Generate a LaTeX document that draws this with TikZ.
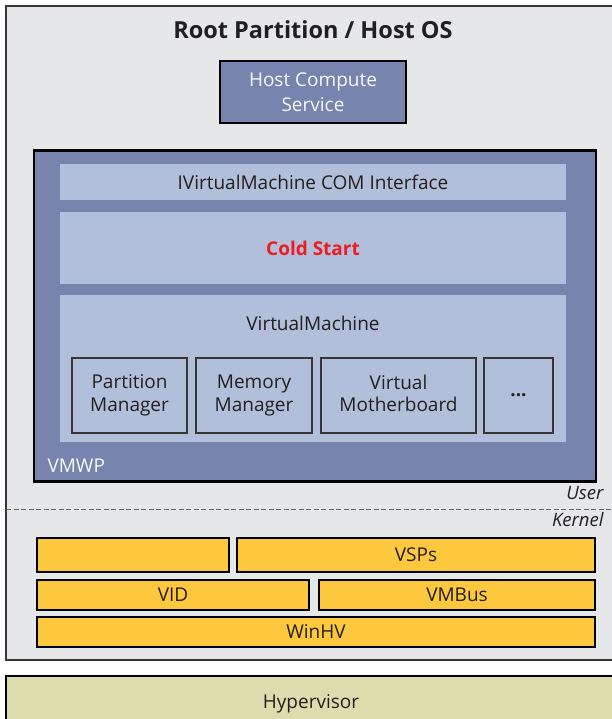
\documentclass[tikz,border=0pt]{standalone}
\usepackage{fontspec}
\setmainfont{Open Sans}
\usepackage{tikz}
\definecolor{hostgray}{HTML}{E6E7E9}
\definecolor{procblue}{HTML}{7784AE}
\definecolor{layerblue}{HTML}{B2BFDA}
\definecolor{drvyellow}{HTML}{FDC73E}
\definecolor{hvkhaki}{HTML}{DCDCAC}
\definecolor{ink}{HTML}{231F20}
\definecolor{hotred}{HTML}{ED1C24}
\tikzset{
  arch frame/.style={draw=ink!90,fill=hostgray,line width=1.6pt,inner sep=0pt},
  arch proc/.style={draw=black,fill=procblue,line width=2.4pt,inner sep=0pt,text=white!95!procblue,align=center},
  arch layer/.style={fill=layerblue,inner sep=0pt,text=ink},
  arch part/.style={draw=ink!90,fill=layerblue,line width=1.8pt,inner sep=0pt,text=ink,align=center,text depth=4.5pt},
  arch drv/.style={draw=black,fill=drvyellow,line width=2.2pt,inner sep=0pt,text=ink},
  arch hv/.style={draw=black,fill=hvkhaki,line width=2.2pt,inner sep=0pt},
  arch mode/.style={text=ink,font=\fontsize{18.5}{22}\selectfont\itshape,anchor=base east}
}
\begin{document}
\begin{tikzpicture}[x=1pt,y=-1pt,font=\fontsize{19}{22.5}\selectfont,text=ink]
  \useasboundingbox (0,0) rectangle (612,719);
  \clip (0,0) rectangle (612,719);
  % host partition and hypervisor
  \node[arch frame,minimum width=634pt,minimum height=654pt] (root) at (323,333) {};
  \node[arch hv,minimum width=634pt,minimum height=64pt] (hv) at (323,708) {};
  \node[anchor=base] (hvlabel) at (311,708) {Hypervisor};
  \node[font=\fontsize{23.5}{28}\selectfont\bfseries,anchor=base] (title) at (313,39) {Root Partition / Host OS};
  \node[arch proc,minimum width=186pt,minimum height=62pt,font=\fontsize{19}{25}\selectfont] (hcs) at (313,92) {Host Compute\\Service};
  % worker process
  \node[arch proc,minimum width=562pt,minimum height=331pt] (vmwp) at (315,316) {};
  \node[text=white!95!procblue,anchor=base west] (vmwplabel) at (44,472) {VMWP};
  \node[arch layer,minimum width=506pt,minimum height=36pt] (com) at (313,182) {IVirtualMachine COM Interface};
  \node[arch layer,minimum width=506pt,minimum height=72pt,text=hotred,font=\fontsize{19}{23}\selectfont\bfseries] (cold) at (313,248) {Cold Start};
  \node[arch layer,minimum width=506pt,minimum height=147pt] (vm) at (313,368.5) {};
  \node[anchor=base] (vmlabel) at (313,330) {VirtualMachine};
  \node[arch part,minimum width=115pt,minimum height=75pt] (pm) at (129.5,395.5) {Partition\\Manager};
  \node[arch part,minimum width=116pt,minimum height=75pt] (mm) at (254,395.5) {Memory\\Manager};
  \node[arch part,minimum width=155pt,minimum height=75pt] (vmb) at (398.5,395.5) {Virtual\\Motherboard};
  \node[arch part,minimum width=69pt,minimum height=75pt,text depth=0pt,font=\fontsize{19}{23}\selectfont\bfseries] (more) at (518.5,395.5) {...};
  % user / kernel split
  \draw[ink!70,line width=1pt,dash pattern=on 5pt off 2.5pt] (6,509) -- (640,509);
  \node[arch mode] (user) at (607,499) {User};
  \node[arch mode] (kernel) at (607,526) {Kernel};
  % kernel drivers
  \node[arch drv,minimum width=192pt,minimum height=34pt] (blank) at (133,555) {};
  \node[arch drv,minimum width=358pt,minimum height=34pt] (vsp) at (416,555) {VSPs};
  \node[arch drv,minimum width=272pt,minimum height=30pt] (vid) at (173,595) {VID};
  \node[arch drv,minimum width=276pt,minimum height=30pt] (vmbus) at (457,595) {VMBus};
  \node[arch drv,minimum width=558pt,minimum height=30pt] (winhv) at (316,632) {WinHV};
\end{tikzpicture}
\end{document}
